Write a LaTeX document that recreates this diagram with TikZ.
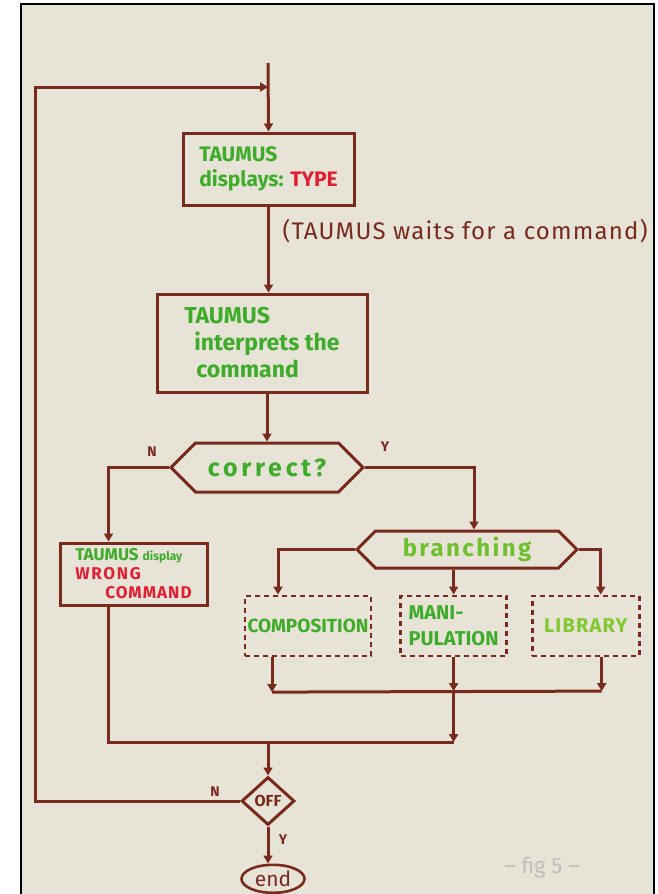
\documentclass[tikz,border=0pt]{standalone}
\usepackage{fontspec}
\setmainfont{Fira Sans}
\usepackage{xcolor}
\usepackage{tikz}
\usetikzlibrary{calc, positioning, arrows.meta, shapes.geometric, shapes.symbols}
\definecolor{ink}{RGB}{120,42,28}
\definecolor{marker}{RGB}{62,172,42}
\definecolor{lightmarker}{RGB}{130,200,48}
\definecolor{redmarker}{RGB}{226,30,50}
\definecolor{paper}{RGB}{231,228,215}
\newcommand{\spaced}[1]{\addfontfeature{LetterSpace=#1}}
\tikzset{
    box/.style={rectangle, draw=ink, line width=3pt, align=left, inner sep=0pt, text=marker},
    module/.style={rectangle, draw=ink, line width=2.6pt, dash pattern=on 5pt off 4pt, align=left, inner sep=0pt, minimum height=60pt, text=marker},
    hexa/.style={signal, signal to=west and east, signal pointer angle=90, draw=ink, line width=3pt, inner sep=0pt, text=marker},
    decision/.style={diamond, draw=ink, line width=3pt, inner sep=0pt, minimum width=53pt, minimum height=48pt, font=\fontsize{16}{16}\selectfont\bfseries, text=ink},
    term/.style={ellipse, draw=ink, line width=2.6pt, inner sep=0pt, minimum width=63pt, minimum height=28pt, font=\fontsize{21}{21}\selectfont, text=ink},
    flow/.style={draw=ink, line width=3pt},
    arrow/.style={flow, -{Triangle[width=9pt,length=8pt]}},
    yn/.style={font=\fontsize{14}{14}\selectfont\bfseries, text=ink}
}
\begin{document}
\begin{tikzpicture}[x=1pt, y=1pt]
        \useasboundingbox (0,0) rectangle (657,-894);
        \fill[paper] (21,-4) rectangle (654,-894);
        \draw[line width=2.5pt] (21,-894) -- (21,-4) -- (654,-4) -- (654,-894);

        % Prompt and interpreter
        \node[box, minimum width=171pt, minimum height=72pt, font=\fontsize{21}{25}\selectfont\bfseries] (type) at (268.5,-169) {TAUMUS\\displays: \textcolor{redmarker}{TYPE}};
        \node[box, minimum width=210pt, minimum height=98pt, font=\fontsize{23}{27}\selectfont\bfseries, below=86pt of type, xshift=-6.5pt] (interp) {TAUMUS\\\hspace*{10pt}interprets the\\\hspace*{12pt}command};
        \node[hexa, minimum width=192pt, minimum height=49pt, font=\fontsize{25}{25}\selectfont\bfseries\spaced{15}, below=48pt of interp, xshift=5pt] (correct) {correct?};
        \node[font=\fontsize{24}{24}\selectfont\spaced{5}, text=ink, anchor=west] (wait) at (279,-231) {(TAUMUS waits for a command)};

        % Wrong command
        \node[box, minimum width=147pt, minimum height=62pt, font=\fontsize{17}{19}\selectfont\bfseries, below=48pt of correct, xshift=-133.5pt] (wrong) {TAUMUS {\fontsize{12}{12}\selectfont display}\\\textcolor{redmarker}{\spaced{10}WRONG}\\\hspace*{30pt}\textcolor{redmarker}{\spaced{6}COMMAND}};

        % Branching
        \node[hexa, minimum width=220pt, minimum height=37pt, font=\fontsize{24}{24}\selectfont\bfseries\spaced{10}, text=lightmarker!70!marker, below=36pt of correct, xshift=200pt] (branch) {branching};
        \node[module, minimum width=126pt, font=\fontsize{19}{19}\selectfont\bfseries, below=25pt of branch, xshift=-159pt] (comp) {COMPOSITION};
        \node[module, minimum width=106pt, font=\fontsize{20}{26}\selectfont\bfseries, right=27pt of comp] (mani) {MANI-\\PULATION};
        \node[module, minimum width=107pt, font=\fontsize{20}{20}\selectfont\bfseries\spaced{6}, right=23pt of mani, text=lightmarker] (lib) {LIBRARY};

        % End test
        \node[decision] (off) at (268,-801) {OFF};
        \node[term, below=37pt of off, xshift=5pt] (end) {end};

        % Labels
        \node[yn] (no1) at (152,-452) {N};
        \node[yn] (yes1) at (385,-447) {Y};
        \node[yn] (no2) at (215,-792) {N};
        \node[yn] (yes2) at (283,-840) {Y};
        \node[text=gray!50, font=\fontsize{22}{22}\selectfont] (fig) at (542,-868) {-- fig 5 --};

        % Connections
        \coordinate (top) at (268,-63);
        \coordinate (loop) at (268,-87);
        \coordinate (back) at (35,-87);
        \draw[arrow] (top) -- (type.north);
        \draw[arrow] (type.south) -- (type.south |- interp.north);
        \draw[arrow] (interp.south -| correct.north) -- (correct.north);
        \draw[arrow] (correct.west) -| ([xshift=50pt]wrong.north west);
        \draw[arrow] (correct.east) -| ([xshift=7pt]branch.north);
        \draw[arrow] (branch.west) -| ([xshift=-30pt]comp.north);
        \draw[arrow] (branch.south -| mani.north) -- (mani.north);
        \draw[arrow] (branch.east) -| ([xshift=15pt]lib.north);

        \draw[arrow] ([xshift=-36pt]comp.south) -- ++(0,-35) coordinate (c1);
        \draw[arrow] (mani.south) -- ++(0,-34) coordinate (c2);
        \draw[arrow] ([xshift=16pt]lib.south) -- ++(0,-34) coordinate (c3);
        \draw[flow] (c1) -- (c3);
        \draw[arrow] (c2) -- ++(0,-51) coordinate (c4);
        \draw[flow] ([xshift=50pt]wrong.south west) |- (c4);
        \draw[arrow] (c4 -| off.north) -- (off.north);

        \draw[arrow] (off.west) -| (back) -- (loop);
        \draw[arrow] (off.south) -- (off.south |- end.north);
    \end{tikzpicture}
\end{document}
